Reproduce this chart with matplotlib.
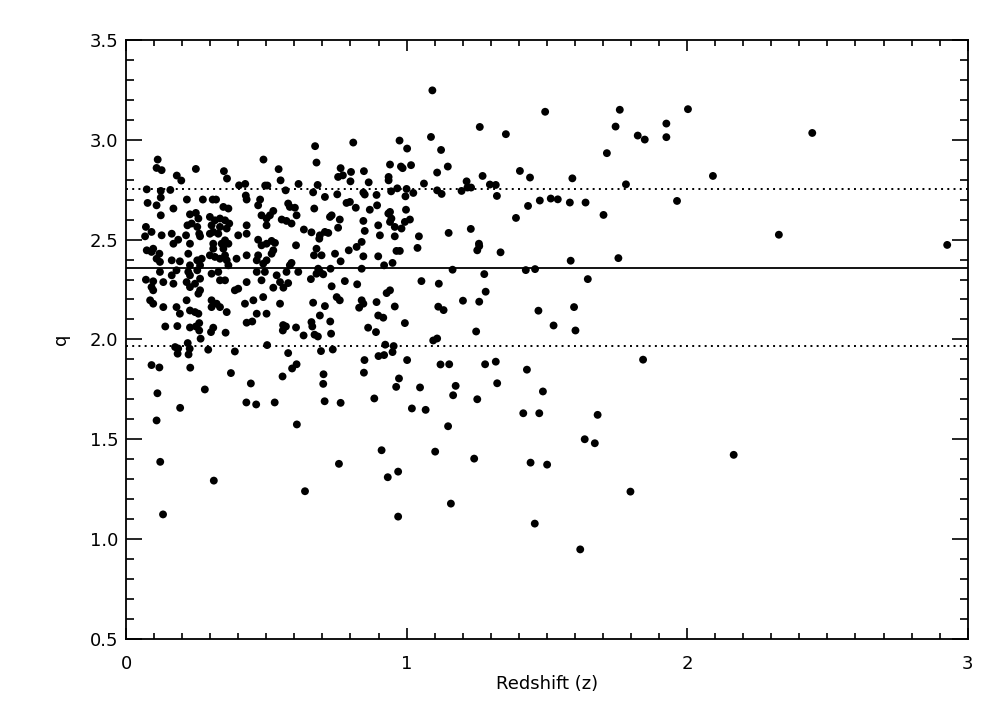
import numpy as np
import matplotlib
matplotlib.use('Agg')
import matplotlib.pyplot as plt

# valores (redshift z, parametro q)
# zona densa, z < 0.52
pts_bajo = [
    (0.113, 2.90), (0.109, 2.858), (0.127, 2.847), (0.074, 2.751), (0.124, 2.743),
    (0.124, 2.71), (0.158, 2.748), (0.181, 2.82), (0.197, 2.795), (0.249, 2.853),
    (0.217, 2.70), (0.274, 2.70), (0.309, 2.70), (0.321, 2.70), (0.349, 2.842),
    (0.36, 2.805), (0.403, 2.771), (0.425, 2.778), (0.427, 2.72), (0.43, 2.70),
    (0.478, 2.70), (0.49, 2.90), (0.496, 2.77), (0.504, 2.77),
    (0.077, 2.683), (0.109, 2.671), (0.124, 2.621), (0.169, 2.655), (0.228, 2.626),
    (0.249, 2.633), (0.258, 2.605), (0.219, 2.571), (0.234, 2.580), (0.254, 2.563),
    (0.261, 2.529), (0.299, 2.613), (0.317, 2.596), (0.335, 2.605), (0.353, 2.596),
    (0.335, 2.563), (0.359, 2.555), (0.368, 2.580), (0.347, 2.663), (0.365, 2.655),
    (0.305, 2.571), (0.311, 2.538), (0.329, 2.529), (0.471, 2.671), (0.483, 2.621),
    (0.501, 2.605), (0.430, 2.571), (0.400, 2.521), (0.430, 2.529), (0.501, 2.571),
    (0.071, 2.563), (0.091, 2.538), (0.068, 2.516), (0.127, 2.521), (0.163, 2.529),
    (0.186, 2.499), (0.169, 2.479), (0.214, 2.521), (0.228, 2.479), (0.264, 2.516),
    (0.299, 2.529), (0.311, 2.479), (0.353, 2.496), (0.365, 2.479), (0.341, 2.479),
    (0.347, 2.454), (0.311, 2.454), (0.471, 2.499), (0.501, 2.479), (0.483, 2.471),
    (0.074, 2.446), (0.091, 2.438), (0.097, 2.454), (0.119, 2.429), (0.109, 2.404),
    (0.121, 2.388), (0.163, 2.396), (0.192, 2.391), (0.222, 2.429), (0.228, 2.371),
    (0.254, 2.396), (0.264, 2.371), (0.270, 2.404), (0.299, 2.421), (0.317, 2.413),
    (0.353, 2.421), (0.359, 2.396), (0.335, 2.404), (0.365, 2.371), (0.394, 2.404),
    (0.430, 2.421), (0.471, 2.421), (0.466, 2.396), (0.489, 2.379), (0.501, 2.396),
    (0.071, 2.299), (0.097, 2.291), (0.091, 2.262), (0.097, 2.246), (0.133, 2.287),
    (0.121, 2.338), (0.163, 2.321), (0.180, 2.346), (0.169, 2.279), (0.222, 2.338),
    (0.228, 2.321), (0.216, 2.287), (0.228, 2.262), (0.254, 2.346), (0.264, 2.304),
    (0.246, 2.279), (0.264, 2.246), (0.258, 2.229), (0.305, 2.329), (0.329, 2.338),
    (0.335, 2.296), (0.353, 2.296), (0.400, 2.254), (0.388, 2.246), (0.430, 2.287),
    (0.466, 2.338), (0.483, 2.296), (0.495, 2.338), (0.086, 2.196), (0.097, 2.179),
    (0.133, 2.162), (0.180, 2.162), (0.192, 2.129), (0.216, 2.196), (0.228, 2.145),
    (0.246, 2.137), (0.258, 2.129), (0.305, 2.196), (0.323, 2.179), (0.335, 2.162),
    (0.359, 2.137), (0.305, 2.162), (0.424, 2.179), (0.454, 2.196), (0.489, 2.212),
    (0.466, 2.129), (0.501, 2.129),
    (0.14, 2.065), (0.183, 2.067), (0.228, 2.06), (0.249, 2.065), (0.261, 2.082),
    (0.261, 2.045), (0.266, 2.004), (0.303, 2.037), (0.311, 2.059), (0.355, 2.034),
    (0.43, 2.084), (0.45, 2.09), (0.503, 1.972), (0.175, 1.962), (0.186, 1.955),
    (0.184, 1.929), (0.22, 1.982), (0.227, 1.954), (0.223, 1.925), (0.293, 1.949),
    (0.388, 1.94), (0.091, 1.872), (0.119, 1.86), (0.229, 1.859), (0.374, 1.832),
    (0.445, 1.78), (0.281, 1.75), (0.112, 1.731), (0.429, 1.685), (0.464, 1.675),
    (0.193, 1.658), (0.109, 1.595),
    (0.122, 1.388), (0.132, 1.125), (0.313, 1.294),
]

# zona intermedia, 0.52 < z < 1.09
pts_medio = [
    (0.544, 2.852), (0.551, 2.796), (0.569, 2.746), (0.615, 2.778), (0.674, 2.967),
    (0.679, 2.885), (0.683, 2.773), (0.667, 2.736), (0.709, 2.713), (0.753, 2.726),
    (0.765, 2.857), (0.773, 2.821), (0.756, 2.813), (0.802, 2.838), (0.81, 2.985),
    (0.80, 2.791), (0.848, 2.842), (0.865, 2.786), (0.846, 2.735), (0.851, 2.725),
    (0.893, 2.723), (0.936, 2.813), (0.936, 2.796), (0.941, 2.875), (0.945, 2.741),
    (0.975, 2.995), (0.98, 2.865), (0.986, 2.857), (1.002, 2.955), (1.016, 2.872),
    (0.967, 2.756), (1.0, 2.753), (0.996, 2.716), (1.024, 2.733), (1.062, 2.78),
    (0.578, 2.680), (0.584, 2.663), (0.602, 2.659), (0.671, 2.655), (0.786, 2.683),
    (0.798, 2.688), (0.819, 2.659), (0.869, 2.649), (0.895, 2.671), (0.935, 2.630),
    (0.941, 2.638), (0.946, 2.605), (0.941, 2.588), (0.958, 2.563), (0.998, 2.649),
    (0.994, 2.588), (1.012, 2.600), (0.982, 2.555), (0.525, 2.643), (0.513, 2.621),
    (0.608, 2.621), (0.555, 2.600), (0.572, 2.593), (0.590, 2.580), (0.733, 2.621),
    (0.727, 2.613), (0.762, 2.600), (0.756, 2.559), (0.846, 2.593), (0.851, 2.543),
    (0.899, 2.571), (0.905, 2.521), (0.958, 2.516), (1.044, 2.516), (0.634, 2.550),
    (0.661, 2.536), (0.691, 2.521), (0.689, 2.504), (0.709, 2.538), (0.721, 2.533),
    (0.519, 2.493), (0.531, 2.483), (0.525, 2.446), (0.519, 2.429), (0.606, 2.471),
    (0.679, 2.454), (0.670, 2.421), (0.697, 2.421), (0.745, 2.429), (0.794, 2.446),
    (0.822, 2.463), (0.840, 2.488), (0.846, 2.416), (0.899, 2.416), (0.964, 2.443),
    (0.976, 2.443), (1.039, 2.458), (0.765, 2.391), (0.590, 2.383), (0.584, 2.371),
    (0.572, 2.338), (0.614, 2.338), (0.685, 2.354), (0.691, 2.338), (0.679, 2.329),
    (0.703, 2.326), (0.729, 2.354), (0.840, 2.354), (0.920, 2.371), (0.950, 2.383),
    (0.537, 2.321), (0.549, 2.287), (0.561, 2.259), (0.578, 2.282), (0.525, 2.259),
    (0.659, 2.302), (0.733, 2.266), (0.780, 2.292), (0.824, 2.276), (1.053, 2.292),
    (0.929, 2.232), (0.941, 2.246), (0.840, 2.196), (0.846, 2.179), (0.751, 2.212),
    (0.762, 2.196), (0.549, 2.179), (0.667, 2.184), (0.709, 2.167), (0.831, 2.159),
    (0.893, 2.187), (0.958, 2.165), (0.691, 2.120), (0.899, 2.120), (0.917, 2.109),
    (0.56, 2.072), (0.57, 2.065), (0.559, 2.045), (0.606, 2.06), (0.633, 2.02),
    (0.661, 2.087), (0.664, 2.065), (0.672, 2.024), (0.684, 2.015), (0.728, 2.09),
    (0.731, 2.029), (0.863, 2.059), (0.891, 2.037), (0.994, 2.082), (0.578, 1.932),
    (0.695, 1.942), (0.737, 1.95), (0.924, 1.974), (0.954, 1.967), (0.95, 1.937),
    (0.9, 1.917), (0.92, 1.922), (0.85, 1.897), (1.002, 1.897), (0.608, 1.876),
    (0.592, 1.855), (0.558, 1.815), (0.704, 1.826), (0.703, 1.778), (0.848, 1.834),
    (0.973, 1.805), (0.963, 1.763), (1.048, 1.76), (0.53, 1.685), (0.708, 1.691),
    (0.765, 1.683), (0.885, 1.705), (1.019, 1.655), (1.068, 1.648), (0.609, 1.575),
    (0.638, 1.241), (0.759, 1.378), (0.911, 1.446), (0.933, 1.311), (0.97, 1.339),
    (0.97, 1.114),
]

# cola a alto redshift, z > 1.09
pts_alto = [
    (1.092, 3.246), (1.087, 3.013), (1.123, 2.948), (1.109, 2.835), (1.147, 2.865),
    (1.109, 2.746), (1.125, 2.728), (1.196, 2.743), (1.214, 2.791), (1.217, 2.76),
    (1.23, 2.76), (1.261, 3.063), (1.271, 2.818), (1.297, 2.775), (1.318, 2.773),
    (1.322, 2.718), (1.354, 3.027), (1.404, 2.843), (1.44, 2.81), (1.494, 3.139),
    (1.475, 2.695), (1.514, 2.705), (1.539, 2.701), (1.582, 2.685), (1.591, 2.806),
    (1.638, 2.685), (1.714, 2.932), (1.745, 3.065), (1.76, 3.149), (1.782, 2.776),
    (1.824, 3.02), (1.849, 3.0), (1.926, 3.08), (1.926, 3.012), (2.003, 3.152),
    (1.964, 2.693), (1.39, 2.608), (1.433, 2.668), (1.702, 2.623), (1.15, 2.533),
    (1.229, 2.553), (1.258, 2.479), (1.259, 2.467), (1.252, 2.446), (1.335, 2.436),
    (1.585, 2.394), (1.755, 2.407), (1.164, 2.349), (1.277, 2.327), (1.425, 2.347),
    (1.458, 2.352), (1.646, 2.302),
    (1.115, 2.279), (1.113, 2.164), (1.132, 2.147), (1.201, 2.194), (1.259, 2.189),
    (1.282, 2.239), (1.47, 2.144), (1.597, 2.162), (1.524, 2.07), (1.602, 2.045),
    (1.248, 2.04), (1.095, 1.995), (1.109, 2.005), (1.121, 1.875), (1.152, 1.876),
    (1.28, 1.876), (1.318, 1.889), (1.429, 1.849), (1.843, 1.899), (1.175, 1.768),
    (1.166, 1.721), (1.252, 1.701), (1.323, 1.781), (1.486, 1.74), (1.416, 1.631),
    (1.473, 1.631), (1.681, 1.623), (1.148, 1.566), (1.635, 1.501), (1.671, 1.481),
    (1.102, 1.439), (1.241, 1.404), (1.442, 1.384), (1.501, 1.374), (1.798, 1.239),
    (1.158, 1.179), (1.457, 1.079), (1.619, 0.95),
    (2.446, 3.033), (2.092, 2.818), (2.327, 2.524), (2.927, 2.473), (2.166, 1.423),
]

q_media = 2.356
q_sup = 2.751
q_inf = 1.967

datos = np.array(pts_bajo + pts_medio + pts_alto)
z = datos[:, 0]
q = datos[:, 1]

plt.rcParams['font.family'] = ['DejaVu Sans']

fig = plt.figure(figsize=(10.08, 7.2), dpi=100)
ax = fig.add_axes([0.125, 0.112, 0.835, 0.833])

ax.scatter(z, q, s=32, c='black', edgecolors='none', zorder=3)
ax.axhline(q_media, color='black', lw=1.3)
ax.axhline(q_sup, color='black', lw=1.4, linestyle=(0, (1, 2.2)))
ax.axhline(q_inf, color='black', lw=1.4, linestyle=(0, (1, 2.2)))

ax.set_xlim(0, 3)
ax.set_ylim(0.5, 3.5)
ax.set_xticks([0, 1, 2, 3])
ax.set_xticklabels(['0', '1', '2', '3'])
ax.set_xticks(np.arange(0, 3.01, 0.1), minor=True)
ax.set_yticks(np.arange(0.5, 3.51, 0.5))
ax.set_yticklabels(['0.5', '1.0', '1.5', '2.0', '2.5', '3.0', '3.5'])
ax.set_yticks(np.arange(0.5, 3.51, 0.1), minor=True)

ax.tick_params(axis='both', which='both', direction='in', top=True, right=True,
               labelsize=13, width=1.2, colors='black')
ax.tick_params(axis='x', which='major', length=8, pad=11)
ax.tick_params(axis='x', which='minor', length=4)
ax.tick_params(axis='y', which='major', length=11.5, pad=5.5)
ax.tick_params(axis='y', which='minor', length=5.8)
for lado in ax.spines.values():
    lado.set_linewidth(1.3)

ax.set_xlabel('Redshift (z)', fontsize=13, labelpad=2)
ax.set_ylabel('q', fontsize=13, labelpad=14)

fig.savefig('out.png', dpi=100)
